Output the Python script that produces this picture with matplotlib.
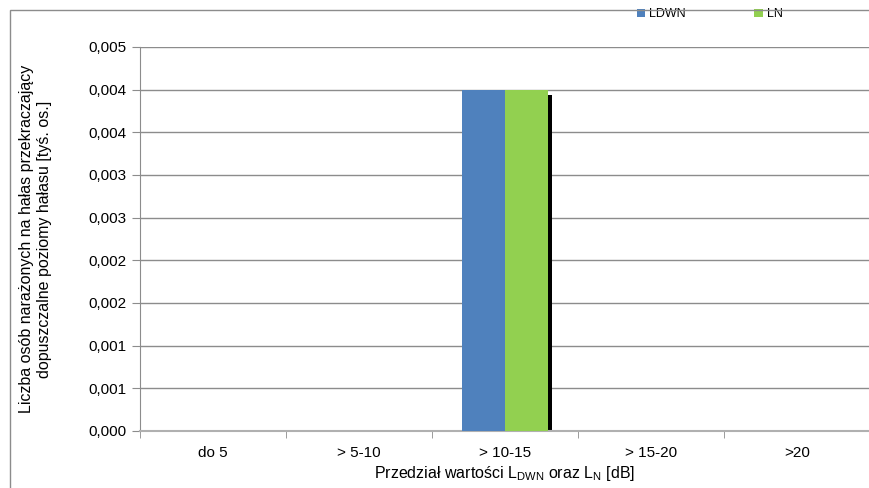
import numpy as np
import matplotlib
matplotlib.use("Agg")
import matplotlib.pyplot as plt
from matplotlib.ticker import FuncFormatter, FixedLocator
from matplotlib.patches import Rectangle

plt.rcParams['font.family'] = ['Liberation Sans', 'DejaVu Sans']

categories = ["do 5", "> 5-10", "> 10-15", "> 15-20", ">20"]
ldwn = [0, 0, 0.004, 0, 0]
ln = [0, 0, 0.004, 0, 0]
y_ticks = [0.0, 0.0005, 0.001, 0.0015, 0.002, 0.0025, 0.003, 0.0035, 0.004, 0.0045]

fig = plt.figure(figsize=(8.69, 4.88), dpi=100)
ax = fig.add_axes([140 / 869, 57 / 488, 730 / 869, 384 / 488])

# outer frame of the chart
fig.patches.append(Rectangle((10 / 869, -0.01), 1.0, 1 - 10 / 488 + 0.01,
                             transform=fig.transFigure, fill=False,
                             edgecolor="#8c8c8c", linewidth=1.0))

x = np.arange(len(categories))
w = 0.295
ax.bar(x - w / 2, ldwn, w, color="#4f81bd", label="LDWN", zorder=3)
# dark shadow on the right of the LN bar
ax.bar(x + w / 2 + 0.025, [v * 0.985 for v in ln], w, color="black", zorder=2)
ax.bar(x + w / 2, ln, w, color="#92d050", label="LN", zorder=3)

ax.set_xlim(-0.5, len(categories) - 0.5)
ax.set_ylim(0, 0.0045)
ax.yaxis.set_major_locator(FixedLocator(y_ticks))
ax.yaxis.set_major_formatter(FuncFormatter(
    lambda v, p: f"{round(v * 1000 + 1e-9) / 1000:.3f}".replace(".", ",")))
ax.grid(axis="y", color="#8c8c8c", linewidth=1.0, zorder=0)

ax.set_xticks(x)
ax.set_xticklabels(categories, fontsize=11)
ax.tick_params(axis="x", length=0, pad=11)
ax.set_xticks(np.arange(-0.5, len(categories)), minor=True)
ax.tick_params(axis="x", which="minor", length=5, color="#8c8c8c")
ax.tick_params(axis="y", labelsize=11, length=6, color="#8c8c8c", pad=4)

for s in ["top", "right"]:
    ax.spines[s].set_visible(False)
ax.spines["left"].set_color("#8c8c8c")
ax.spines["bottom"].set_color("#b0b0b0")
ax.spines["bottom"].set_linewidth(1.5)

ax.set_xlabel("Przedział wartości L$_{\\mathregular{DWN}}$ oraz L$_{\\mathregular{N}}$ [dB]",
              fontsize=11.5, labelpad=3)
ax.set_ylabel("Liczba osób narażonych na hałas przekraczający\ndopuszczalne poziomy hałasu [tyś. os.]",
              fontsize=11.5, labelpad=26)

ax.legend(loc="upper right", bbox_to_anchor=(0.896, 1.13), ncol=2, frameon=False,
          fontsize=9, handlelength=0.7, handleheight=0.7, columnspacing=5.5,
          handletextpad=0.3)

fig.savefig("out.png", dpi=100)
